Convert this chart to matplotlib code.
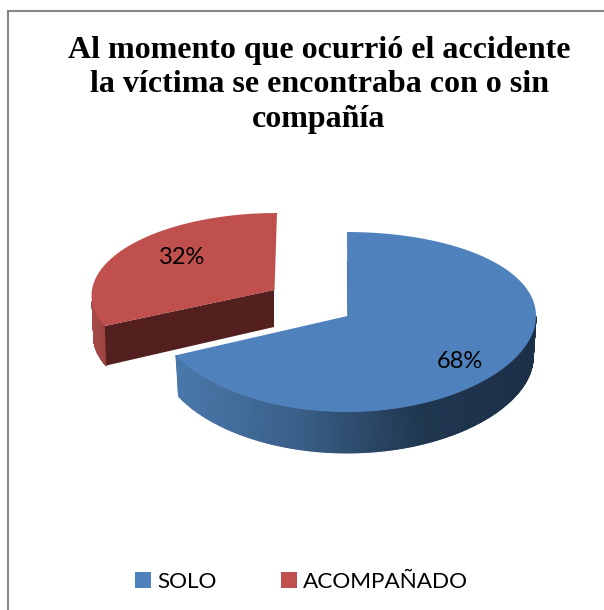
import numpy as np
import matplotlib
matplotlib.use("Agg")
import matplotlib.pyplot as plt
from matplotlib.colors import LinearSegmentedColormap, Normalize

title = "Al momento que ocurrió el accidente\nla víctima se encontraba con o sin\ncompañía"
categories = ["SOLO", "ACOMPAÑADO"]
values = [68, 32]

blue = "#4f81bd"
red = "#c0504d"
blue_stops = [(178, "#4a78ab"), (300, "#3a5f88"), (420, "#203750"), (536, "#1c3048")]
red_stops = [(93, "#a84a47"), (106, "#9c4442")]

fig = plt.figure(figsize=(6.04, 6.10), dpi=100)
ax = fig.add_axes([0, 0, 1, 1])
ax.set_xlim(0, 604)
ax.set_ylim(610, 0)
ax.axis("off")

# only the left and top of the chart frame are inside the crop
ax.plot([8, 8, 604], [610, 11, 11], color="#868686", lw=1.5, solid_joinstyle="miter")

ends = np.cumsum(values) / sum(values) * 360
starts = ends - np.array(values) / sum(values) * 360


def rim(deg, cx, vy, rx, a, b, xp):
    # tilted disc, near side a bit bigger than far side
    t = np.radians(deg)
    s, v = np.sin(t), -np.cos(t)
    d = 1 + b * v
    x = cx + rx * s / (d if xp else 1)
    y = (a * v + vy) / d
    return x, y


def side(d0, d1, shape, depth, shrink, stops):
    # outer wall, shaded along x
    lo, hi = stops[0][0], stops[-1][0]
    cmap = LinearSegmentedColormap.from_list(
        "wall", [((p[0] - lo) / (hi - lo), p[1]) for p in stops])
    angs = np.linspace(d0, d1, 240)
    x, y = rim(angs, *shape)
    x2 = shape[0] + (x - shape[0]) * shrink
    X = np.vstack([x, x2])
    Y = np.vstack([y, y + depth])
    ax.pcolormesh(X, Y, X, shading="gouraud", cmap=cmap, norm=Normalize(lo, hi), zorder=2)


def top(d0, d1, shape, vx, color):
    x, y = rim(np.linspace(d0, d1, 240), *shape)
    return ax.fill(np.r_[vx, x], np.r_[shape[1], y], color=color, lw=0, zorder=3)[0]


blue_shape = (347, 316, 189, 68.5, -0.0667, False)
red_shape = (277, 290, 185, 62.8, -0.0667, True)

# red slice
rx, ry = rim(starts[1], *red_shape)
ax.fill([274, rx, rx + 1.5, 274], [290, ry, ry + 39.5, 327], color="#54201f", lw=0, zorder=2.5)
side(starts[1], 262, red_shape, 40, 0.99, red_stops)
red_top = top(starts[1], ends[1], red_shape, 274.5, red)

# blue slice
side(90, ends[0], blue_shape, 41, 0.985, blue_stops)
blue_top = top(starts[0], ends[0], blue_shape, 347.5, blue)
ax.plot([347.5, 348], [262, 316], color="#2f4a6b", lw=0.8, zorder=2.8)

ax.text(182, 257, f"{values[1]}%", family="Lato", fontsize=17, ha="center", va="center", zorder=5)
ax.text(460, 362, f"{values[0]}%", family="Lato", fontsize=17, ha="center", va="center", zorder=5)

ax.text(319, 85, title, family="Liberation Serif", weight="bold", fontsize=23,
        ha="center", va="center", linespacing=1.27, zorder=5)

ax.legend([blue_top, red_top], categories, loc="center", bbox_to_anchor=(301.5, 582),
          bbox_transform=ax.transData, ncol=2, frameon=False,
          prop={"family": "Lato", "size": 16.2}, handlelength=0.7, handleheight=0.7,
          handletextpad=0.3, columnspacing=2.85)

fig.savefig("out.png", dpi=100)
